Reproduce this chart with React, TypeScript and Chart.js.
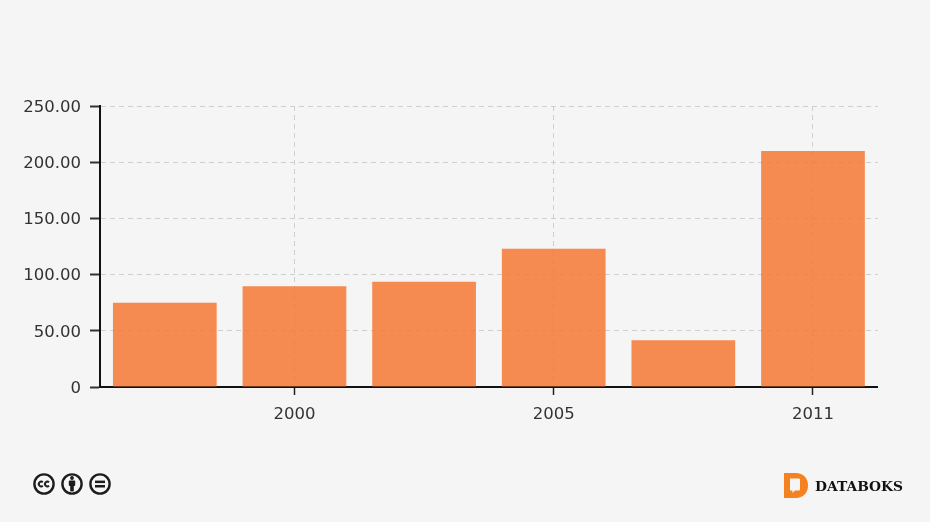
import React, { useEffect, useRef } from "react";
import { Chart, registerables } from "chart.js";

Chart.register(...registerables);

const categories = ["1998", "2000", "2003", "2005", "2008", "2011"];
const labelled = ["2000", "2005", "2011"];
const values = [74.9, 89.6, 93.6, 123, 41.6, 210];
const FONT = "'DejaVu Sans', Verdana, sans-serif";

function CcIcon({ x, kind }: { x: number; kind: string }) {
  return (
    <svg style={{ position: "absolute", left: x, top: 473 }} width={22} height={22} viewBox="0 0 22 22">
      <circle cx={11} cy={11} r={9.6} fill="#f5f5f5" stroke="#1c1c1c" strokeWidth={2.4} />
      {kind === "cc" && (
        <g fill="none" stroke="#1c1c1c" strokeWidth={2}>
          <path d="M9.8 9.2a2.400 2.400 0 1 0 0 3.600" />
          <path d="M16 9.2a2.400 2.400 0 1 0 0 3.600" />
        </g>
      )}
      {kind === "by" && (
        <g fill="#1c1c1c">
          <circle cx={11} cy={5} r={1.9} />
          <rect x={7.8} y={7.4} width={6.4} height={5.6} rx={1} />
          <rect x={9.2} y={12} width={3.6} height={6.4} />
        </g>
      )}
      {kind === "eq" && (
        <g fill="#1c1c1c">
          <rect x={6} y={7.6} width={10} height={2.5} />
          <rect x={6} y={12} width={10} height={2.5} />
        </g>
      )}
    </svg>
  );
}

export default function App() {
  const ref = useRef<HTMLCanvasElement>(null);
  useEffect(() => {
    const chart = new Chart(ref.current!, {
      type: "bar",
      data: {
        labels: categories,
        datasets: [
          {
            data: values,
            backgroundColor: "rgba(244,120,50,0.85)",
            barPercentage: 0.8,
            categoryPercentage: 1,
          },
        ],
      },
      options: {
        responsive: false,
        animation: false,
        layout: { padding: { top: 106, right: 52.2, left: 0, bottom: 0 } },
        plugins: { legend: { display: false }, tooltip: { enabled: false } },
        scales: {
          x: {
            afterBuildTicks: (scale: any) => {
              scale.ticks = scale.ticks.filter((t: any) => labelled.includes(categories[t.value]));
            },
            afterFit: (scale: any) => {
              scale.height = 135;
            },
            grid: {
              offset: false,
              color: "#cfcfcf",
              lineWidth: 1,
              tickColor: "#222",
              tickLength: 8,
              tickWidth: 1.5,
              tickBorderDash: [],
            } as any,
            border: { color: "#111", width: 2, dash: [5, 4] },
            ticks: {
              color: "#333",
              font: { family: FONT, size: 16.5 },
              maxRotation: 0,
              autoSkip: false,
              padding: 10,
            },
          },
          y: {
            min: 0,
            max: 250,
            afterFit: (scale: any) => {
              scale.width = 100;
            },
            grid: {
              color: "#cfcfcf",
              lineWidth: 1,
              tickColor: "#333",
              tickLength: 10,
              tickWidth: 2,
              tickBorderDash: [],
            } as any,
            border: { color: "#111", width: 2, dash: [5, 4] },
            ticks: {
              stepSize: 50,
              color: "#333",
              font: { family: FONT, size: 16.5 },
              padding: 9,
              labelOffset: 1.5,
              callback: (v: any) => (v === 0 ? "0" : Number(v).toFixed(2)),
            } as any,
          },
        },
      },
    });
    return () => chart.destroy();
  }, []);

  return (
    <div style={{ position: "fixed", left: 0, top: 0, width: 930, height: 522, background: "#f5f5f5", overflow: "hidden" }}>
      <canvas ref={ref} width={930} height={522} style={{ display: "block" }} />
      <CcIcon x={33} kind="cc" />
      <CcIcon x={61} kind="by" />
      <CcIcon x={89} kind="eq" />
      <svg style={{ position: "absolute", left: 783, top: 472 }} width={26} height={27} viewBox="0 0 26 27">
        <path d="M1 1h12c7 0 12 5 12 12.5S20 26 13 26H1z" fill="#f58220" />
        <path d="M7 6.500h8.500c1 0 1.500 .5 1.500 1.500v9c0 1-.5 1.500-1.500 1.500H12l-2.500 2.500v-2.500H7z" fill="#f5f5f5" />
      </svg>
      <div style={{ position: "absolute", left: 815, top: 476, fontFamily: "'DejaVu Serif', serif", fontWeight: 700, fontSize: 13.8, lineHeight: "20px", color: "#111", whiteSpace: "nowrap" }}>
        DATABOKS
      </div>
    </div>
  );
}
